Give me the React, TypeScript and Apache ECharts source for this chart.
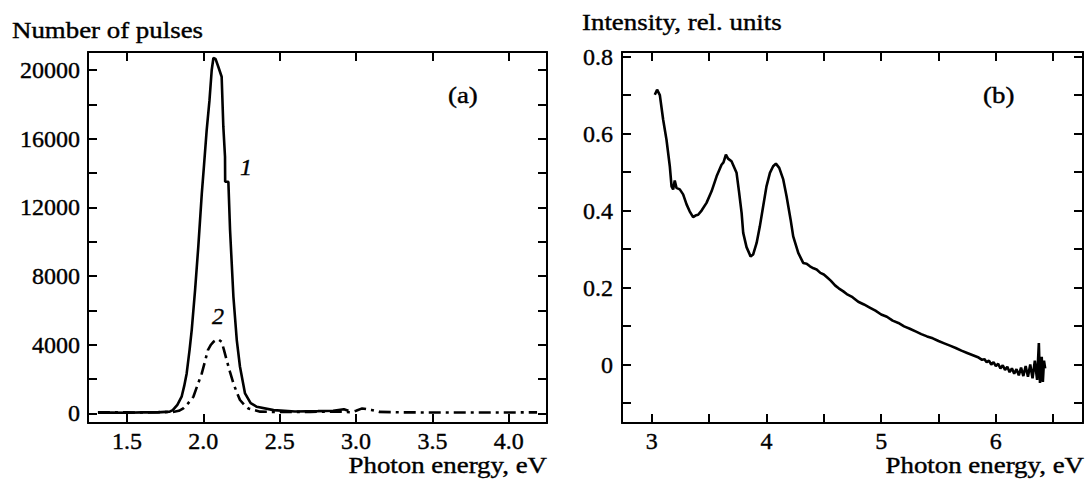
import React, { useEffect, useRef } from "react";
import * as echarts from "echarts";

// ---- Panel (a): Number of pulses vs photon energy ----
const c1X = [1.31, 1.4, 1.5, 1.6, 1.7, 1.78, 1.8, 1.83, 1.858, 1.875, 1.891, 1.91, 1.924, 1.946, 1.967, 1.99, 2.005, 2.022, 2.04, 2.055, 2.066, 2.08, 2.098, 2.12, 2.131, 2.142, 2.143, 2.164, 2.175, 2.197, 2.219, 2.24, 2.273, 2.31, 2.35, 2.46, 2.6, 2.75, 2.85, 2.92, 2.95];
const c1Y = [40, 50, 40, 60, 60, 100, 190, 500, 970, 1600, 2330, 3700, 4850, 7180, 9700, 12800, 14500, 16500, 18200, 20000, 20700, 20650, 20190, 19610, 16700, 14950, 13500, 13490, 10680, 6790, 4270, 2715, 1165, 600, 385, 190, 110, 130, 150, 240, 150];

const c2X = [1.31, 1.4, 1.5, 1.6, 1.7, 1.8, 1.84, 1.869, 1.9, 1.935, 1.96, 1.99, 2.01, 2.03, 2.05, 2.066, 2.085, 2.098, 2.12, 2.135, 2.153, 2.175, 2.197, 2.22, 2.24, 2.27, 2.295, 2.372, 2.5, 2.7, 2.9, 2.97, 3.0, 3.04, 3.1, 3.15, 3.3, 3.6, 3.9, 4.185];
const c2Y = [60, 70, 60, 50, 70, 80, 150, 290, 580, 970, 1600, 2330, 3000, 3690, 4000, 4170, 4280, 4310, 4170, 3700, 3100, 2400, 1750, 1200, 780, 480, 290, 100, 80, 90, 100, 60, 150, 290, 200, 90, 60, 50, 50, 60];

const aXTicks = [1.5, 2.0, 2.5, 3.0, 3.5, 4.0];
const aYTicks = [0, 2000, 4000, 6000, 8000, 10000, 12000, 14000, 16000, 18000, 20000];
const aYLabels = [0, 4000, 8000, 12000, 16000, 20000];

// ---- Panel (b): Intensity vs photon energy ----
const bX = [3.026, 3.046, 3.07, 3.099, 3.128, 3.157, 3.172, 3.186, 3.2, 3.215, 3.244, 3.273, 3.303, 3.33, 3.36, 3.38, 3.404, 3.434, 3.477, 3.521, 3.565, 3.608, 3.625, 3.646, 3.665, 3.695, 3.739, 3.76, 3.783, 3.797, 3.826, 3.861, 3.884, 3.914, 3.942, 3.971, 4.0, 4.03, 4.058, 4.082, 4.111, 4.146, 4.175, 4.21, 4.233, 4.277, 4.32, 4.35, 4.379, 4.41, 4.437, 4.47, 4.5, 4.53, 4.56, 4.6, 4.63, 4.67, 4.7, 4.75, 4.8, 4.85, 4.9, 4.95, 5.0, 5.05, 5.1, 5.15, 5.2, 5.25, 5.3, 5.35, 5.4, 5.45, 5.5, 5.55, 5.6, 5.65, 5.7, 5.75, 5.8, 5.85, 5.88, 5.9, 5.92, 5.94, 5.96, 5.98, 6.0, 6.02, 6.04, 6.06, 6.08, 6.1, 6.12, 6.14, 6.16, 6.18, 6.2, 6.22, 6.24, 6.26, 6.28, 6.3, 6.32, 6.34, 6.36, 6.375, 6.385, 6.4, 6.41, 6.42, 6.43];
const bY = [0.701, 0.714, 0.7, 0.636, 0.584, 0.515, 0.463, 0.455, 0.478, 0.459, 0.455, 0.442, 0.416, 0.398, 0.383, 0.387, 0.389, 0.4, 0.42, 0.45, 0.489, 0.519, 0.525, 0.545, 0.535, 0.528, 0.498, 0.45, 0.394, 0.342, 0.305, 0.281, 0.286, 0.316, 0.359, 0.411, 0.463, 0.498, 0.515, 0.522, 0.511, 0.481, 0.437, 0.377, 0.333, 0.29, 0.264, 0.262, 0.255, 0.25, 0.247, 0.238, 0.234, 0.226, 0.218, 0.205, 0.198, 0.19, 0.183, 0.175, 0.163, 0.156, 0.148, 0.14, 0.13, 0.124, 0.114, 0.108, 0.099, 0.093, 0.086, 0.079, 0.073, 0.068, 0.061, 0.055, 0.049, 0.043, 0.036, 0.03, 0.024, 0.018, 0.012, 0.014, 0.006, 0.01, 0.0, 0.006, -0.004, 0.002, -0.01, -0.002, -0.014, -0.006, -0.02, -0.01, -0.024, -0.012, -0.028, -0.008, -0.03, -0.004, -0.032, 0.0, -0.036, 0.01, -0.04, 0.056, -0.048, 0.02, -0.045, 0.01, -0.01];

const bXTicks = [3, 3.5, 4, 4.5, 5, 5.5, 6, 6.5];
const bXLabels = [3, 4, 5, 6];
const bYTicks = [-0.1, 0, 0.1, 0.2, 0.3, 0.4, 0.5, 0.6, 0.7, 0.8];
const bYLabels = [0, 0.2, 0.4, 0.6, 0.8];

const FONT = "Liberation Serif";

export default function App() {
  const ref = useRef<HTMLDivElement>(null);
  useEffect(() => {
    if (!ref.current) return;
    const chart = echarts.init(ref.current, undefined, { renderer: "svg" });

    const axisLine = { onZero: false, lineStyle: { color: "#000", width: 2 } };
    const tick = (vals: number[]) => ({
      inside: true,
      length: 9,
      customValues: vals,
      lineStyle: { color: "#000", width: 2 },
    });
    const label = (vals: number[], margin: number, fmt?: (v: number) => string) => ({
      customValues: vals,
      fontSize: 24,
      fontFamily: FONT,
      color: "#000",
      textBorderColor: "#000",
      textBorderWidth: 0.4,
      margin,
      formatter: fmt,
    });
    const noLabel = { show: false };

    const axisBase = (grid: number, min: number, max: number) => ({
      type: "value" as const,
      gridIndex: grid,
      min,
      max,
      splitLine: { show: false },
      axisLine,
    });

    const pairs = (xs: number[], ys: number[]) => xs.map((x, i) => [x, ys[i]]);

    const txt = (text: string, x: number, y: number, align: string, extra: any = {}) => ({
      type: "text",
      x,
      y,
      scaleX: extra.scaleX ?? 1.12,
      style: {
        text,
        fill: "#000",
        stroke: "#000",
        lineWidth: 0.4,
        fontSize: 24,
        fontFamily: FONT,
        fontStyle: extra.italic ? "italic" : "normal",
        textAlign: align,
        textVerticalAlign: "middle",
      },
    });

    chart.setOption({
      animation: false,
      backgroundColor: "#fff",
      grid: [
        { left: 88, top: 52, width: 459, height: 371 },
        { left: 622, top: 52, width: 461, height: 371 },
      ],
      xAxis: [
        { ...axisBase(0, 1.245, 4.25), position: "bottom", axisTick: tick(aXTicks), axisLabel: label(aXTicks, 6, (v: number) => v.toFixed(1)) },
        { ...axisBase(0, 1.245, 4.25), position: "top", axisTick: tick(aXTicks), axisLabel: noLabel },
        { ...axisBase(1, 2.74, 6.76), position: "bottom", axisTick: tick(bXTicks), axisLabel: label(bXLabels, 6, (v: number) => String(v)) },
        { ...axisBase(1, 2.74, 6.76), position: "top", axisTick: tick(bXTicks), axisLabel: noLabel },
      ],
      yAxis: [
        { ...axisBase(0, -560, 21050), position: "left", axisTick: tick(aYTicks), axisLabel: label(aYLabels, 8, (v: number) => String(v)) },
        { ...axisBase(0, -560, 21050), position: "right", axisTick: tick(aYTicks), axisLabel: noLabel },
        { ...axisBase(1, -0.152, 0.812), position: "left", axisTick: tick(bYTicks), axisLabel: label(bYLabels, 9, (v: number) => (Math.abs(v) < 1e-9 ? "0" : v.toFixed(1))) },
        { ...axisBase(1, -0.152, 0.812), position: "right", axisTick: tick(bYTicks), axisLabel: noLabel },
      ],
      series: [
        {
          type: "line",
          xAxisIndex: 0,
          yAxisIndex: 0,
          data: pairs(c2X, c2Y),
          showSymbol: false,
          lineStyle: { color: "#000", width: 2.6, type: [12, 5, 3, 5] },
        },
        {
          type: "line",
          xAxisIndex: 0,
          yAxisIndex: 0,
          data: pairs(c1X, c1Y),
          showSymbol: false,
          lineStyle: { color: "#000", width: 2.6 },
        },
        {
          type: "line",
          xAxisIndex: 2,
          yAxisIndex: 2,
          data: pairs(bX, bY),
          showSymbol: false,
          lineStyle: { color: "#000", width: 2.6 },
        },
      ],
      graphic: [
        txt("Number of pulses", 12, 30, "left"),
        txt("Photon energy, eV", 547, 465, "right"),
        txt("(a)", 448, 95, "left"),
        txt("1", 246, 167, "center", { italic: true, scaleX: 1 }),
        txt("2", 218, 316, "center", { italic: true, scaleX: 1 }),
        txt("Intensity, rel. units", 582, 22, "left"),
        txt("Photon energy, eV", 1084, 465, "right"),
        txt("(b)", 983, 95, "left"),
      ],
    });
    return () => chart.dispose();
  }, []);
  return <div ref={ref} style={{ position: "absolute", left: 0, top: 0, width: 1085, height: 481 }} />;
}
